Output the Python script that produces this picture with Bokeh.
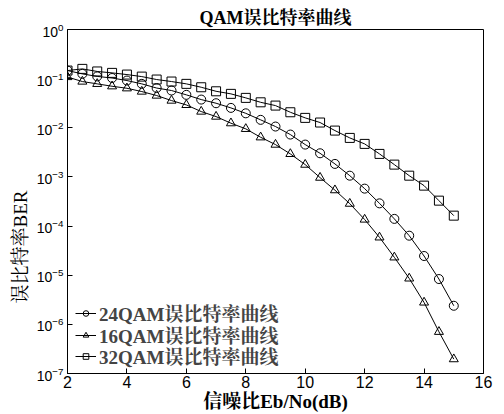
from bokeh.plotting import figure
from bokeh.models import Range1d, Legend, LegendItem, FixedTicker, Title
from bokeh.embed import file_html
from bokeh.resources import INLINE

# Eb/No (dB)
snr = [2, 2.5, 3, 3.5, 4, 4.5, 5, 5.5, 6, 6.5, 7, 7.5, 8, 8.5, 9, 9.5,
       10, 10.5, 11, 11.5, 12, 12.5, 13, 13.5, 14, 14.5, 15]

ber_24qam = [0.146, 0.125, 0.111, 0.103, 0.0914, 0.0783, 0.0644, 0.0573, 0.0468,
             0.0375, 0.0316, 0.0254, 0.0197, 0.0145, 0.0106, 0.00728, 0.00455,
             0.00303, 0.00184, 0.00106, 5.78e-4, 2.90e-4, 1.40e-4, 6.37e-5,
             2.46e-5, 8.36e-6, 2.39e-6]

ber_16qam = [0.108, 0.0873, 0.0783, 0.0700, 0.0637, 0.0546, 0.0453, 0.0358, 0.0292,
             0.0214, 0.0169, 0.0124, 0.00951, 0.00641, 0.00455, 0.00294, 0.00178,
             9.68e-4, 5.38e-4, 2.86e-4, 1.36e-4, 5.89e-5, 2.31e-5, 8.61e-6,
             2.79e-6, 7.06e-7, 1.96e-7]

ber_32qam = [0.146, 0.158, 0.140, 0.131, 0.121, 0.110, 0.0959, 0.0873, 0.0783,
             0.0668, 0.0553, 0.0490, 0.0406, 0.0330, 0.0283, 0.0207, 0.0159,
             0.0128, 0.00877, 0.00622, 0.00470, 0.00294, 0.00178, 0.00106,
             6.65e-4, 3.29e-4, 1.63e-4]

labels = ["24QAM误比特率曲线", "16QAM误比特率曲线", "32QAM误比特率曲线"]
x_ticks = [2, 4, 6, 8, 10, 12, 14, 16]
y_ticks = [1e-7, 1e-6, 1e-5, 1e-4, 1e-3, 1e-2, 1e-1, 1e0]

SERIF = "'Liberation Serif', 'Noto Serif CJK SC', 'Noto Sans CJK SC', serif"
SANS = "'Liberation Sans', Arial, sans-serif"

p = figure(width=504, height=414, output_backend="svg", toolbar_location=None,
           x_range=Range1d(2, 16), y_range=Range1d(1e-7, 1), y_axis_type="log",
           min_border_left=67, min_border_right=21, min_border_top=29,
           min_border_bottom=41)

p.title.text = "QAM误比特率曲线"
p.title.align = "center"
p.title.text_font = SERIF
p.title.text_font_style = "bold"
p.title.text_font_size = "18px"
p.title.text_color = "black"
p.title.standoff = 3

p.grid.visible = False
p.outline_line_color = "black"
p.outline_line_width = 1
p.background_fill_color = "white"
p.border_fill_color = "white"

p.xaxis.ticker = FixedTicker(ticks=x_ticks)
p.yaxis.ticker = FixedTicker(ticks=y_ticks)
for ax in (p.xaxis[0], p.yaxis[0]):
    ax.major_tick_in = 5
    ax.major_tick_out = 0
    ax.minor_tick_line_color = None
    ax.axis_line_color = "black"
    ax.major_tick_line_color = "black"
    ax.major_label_text_font = SANS
    ax.major_label_text_color = "black"
    ax.axis_label_text_font = SERIF
    ax.axis_label_text_color = "black"

p.xaxis.major_label_text_font_size = "16px"
p.yaxis.major_label_text_font_size = "14px"

p.xaxis.axis_label = "信噪比Eb/No(dB)"
p.xaxis.axis_label_text_font_size = "19px"
p.xaxis.axis_label_text_font_style = "bold"
p.xaxis.axis_label_standoff = 0
p.xaxis.major_label_standoff = 2

p.yaxis.major_label_standoff = 4
ylab = Title(text="误比特率BER", align="left", offset=70, text_font=SERIF,
             text_font_size="19px", text_font_style="normal",
             text_color="black", standoff=6)
p.add_layout(ylab, "left")

series = [(ber_24qam, "circle"), (ber_16qam, "triangle"), (ber_32qam, "square")]
legend_y = [47, 25, 4]
for (ys, marker), lab, ly in zip(series, labels, legend_y):
    ln = p.line(snr, ys, line_color="black", line_width=1)
    sc = p.scatter(snr, ys, marker=marker, size=9, line_color="black",
                   fill_color=None, line_width=1)
    leg = Legend(items=[LegendItem(label=lab, renderers=[ln, sc])],
                 location=(8, ly), border_line_color=None,
                 background_fill_alpha=0, label_text_font=SERIF,
                 label_text_font_size="19px", label_text_font_style="bold",
                 glyph_width=21, glyph_height=14, label_standoff=3,
                 spacing=0, padding=3, margin=0, label_height=19)
    p.add_layout(leg, "center")

open("out.html", "w").write(file_html(p, INLINE))
